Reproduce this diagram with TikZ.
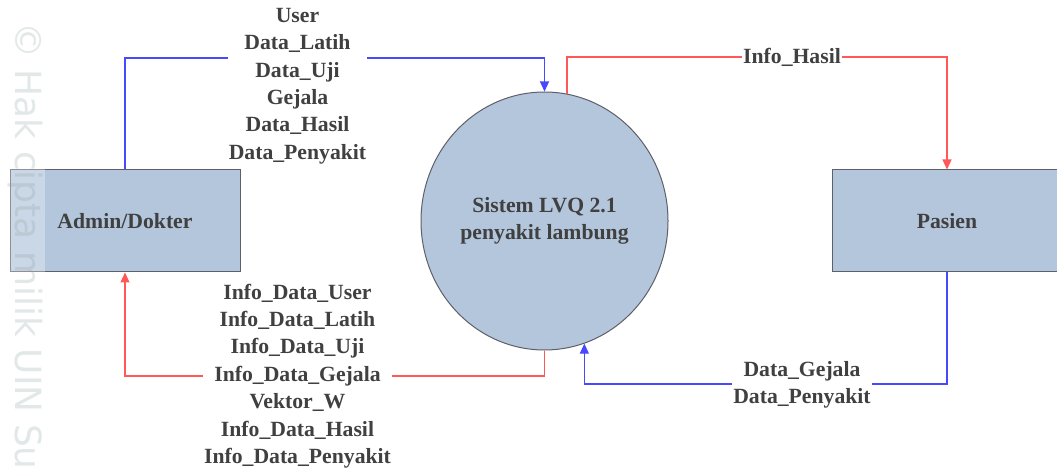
\documentclass[tikz,border=0pt]{standalone}
\usepackage{fontspec}
\setmainfont{Liberation Serif}[BoldFont={Liberation Serif Bold}]
\newfontfamily\lblface{Liberation Serif Bold}
\newfontfamily\wmfont{DejaVu Sans}
\usetikzlibrary{shapes.geometric,arrows.meta}
\definecolor{boxfill}{RGB}{180,198,220}
\definecolor{boxline}{RGB}{95,95,105}
\definecolor{txt}{RGB}{64,64,64}
\definecolor{fblue}{RGB}{72,72,255}
\definecolor{fred}{RGB}{255,88,88}
\definecolor{wmc}{RGB}{140,160,160}
\newcommand\lblfont{\lblface\fontsize{21.7pt}{27.4pt}\selectfont}
\begin{document}
\begin{tikzpicture}[x=1pt,y=-1pt,
  entity/.style={draw=boxline, fill=boxfill, line width=1pt, minimum width=230pt,
    minimum height=102pt, inner sep=0pt, font=\lblfont, text=txt},
  proc/.style={ellipse, draw=boxline, fill=boxfill, line width=1pt, minimum width=247pt,
    minimum height=258pt, inner sep=0pt, font=\lblfont, text=txt, align=center},
  flowlbl/.style={fill=white, inner xsep=1pt, inner ysep=0pt, font=\lblfont, text=txt, align=center},
  bflow/.style={draw=fblue, line width=1.2pt, -{Triangle[length=10pt,width=9pt]}},
  rflow/.style={draw=fred, line width=1.2pt, -{Triangle[length=10pt,width=9pt]}},
  wmtext/.style={font=\wmfont\fontsize{36pt}{36pt}\selectfont, text=wmc, text opacity=0.25, inner sep=0pt}]
\clip (0,0) rectangle (1057,470);
\fill[white] (0,0) rectangle (1057,470);

\node[entity] (admin) at (125,221) {Admin/Dokter};
\node[proc] (sys) at (544.5,221) {Sistem LVQ 2.1\\penyakit lambung};
\node[entity] (pasien) at (947,221) {Pasien};

\coordinate (k1) at (544.5,58);
\coordinate (k2) at (947,57);
\coordinate (k3) at (947,384);
\coordinate (k4) at (544.5,376);

\draw[bflow] (admin.north) |- (k1) -- (sys.north);
\draw[rflow] (sys.80) |- (k2) -- (pasien.north);
\draw[bflow] (pasien.south) -- (k3) -| (sys.-72);
\draw[rflow] (sys.south) -- (k4) -| (admin.south);

\node[flowlbl] (ltop) at (297.5,86) {User\\Data\_Latih\\Data\_Uji\\Gejala\\Data\_Hasil\\Data\_Penyakit};
\node[flowlbl] (lhasil) at (792,57) {Info\_Hasil};
\node[flowlbl] (lpas) at (802,385) {Data\_Gejala\\Data\_Penyakit};
\node[flowlbl] (lbot) at (297.5,376) {Info\_Data\_User\\Info\_Data\_Latih\\Info\_Data\_Uji\\Info\_Data\_Gejala\\Vektor\_W\\Info\_Data\_Hasil\\Info\_Data\_Penyakit};

\fill[white, opacity=0.3] (0,0) rectangle (45,470);
\node[wmtext, rotate=-90, anchor=west] (wm) at (25,22) {© Hak cipta milik UIN Su};
\end{tikzpicture}
\end{document}
